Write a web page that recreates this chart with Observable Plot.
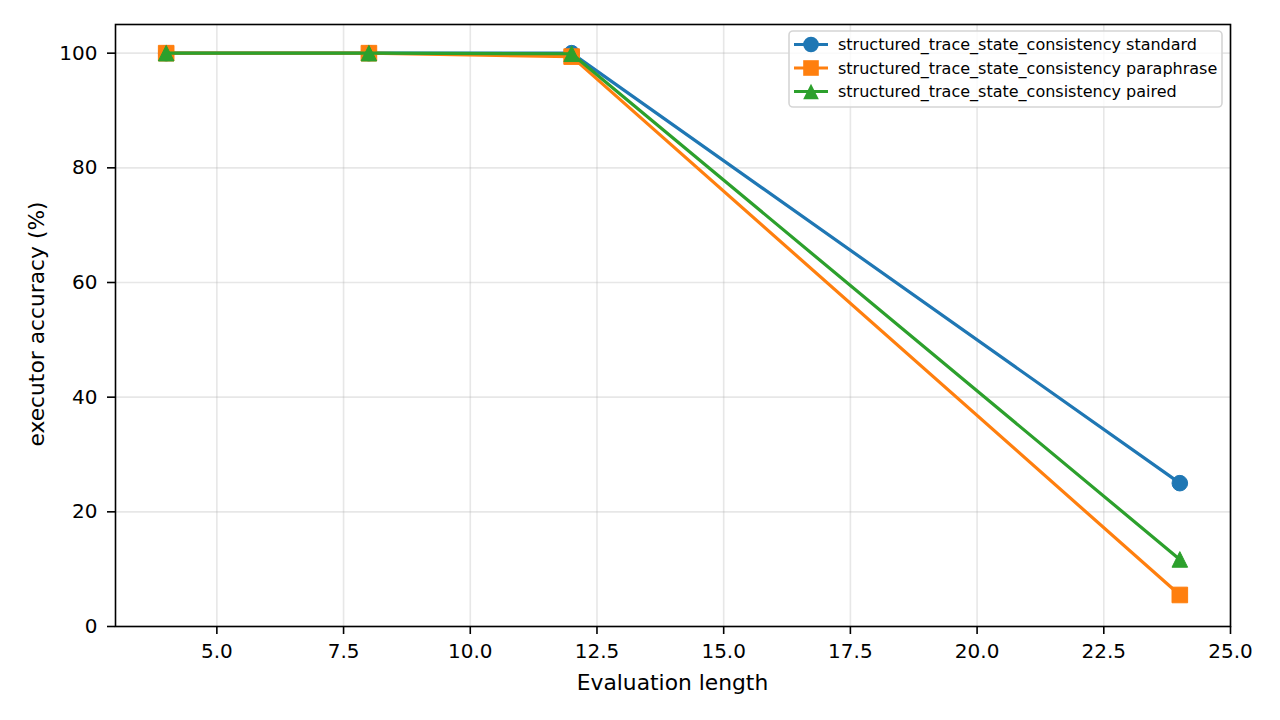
<!DOCTYPE html>
<html>
<head>
<meta charset="utf-8">
<script src="https://cdn.jsdelivr.net/npm/d3@7"></script>
<script src="https://cdn.jsdelivr.net/npm/@observablehq/plot@0.6"></script>
<style>
  html, body { margin: 0; padding: 0; background: #fff; }
  svg { display: block; }
</style>
</head>
<body>
<div id="chart"></div>
<script>
const lengths = [4, 8, 12, 24];
const standardAcc = [100, 100, 100, 25];
const paraphraseAcc = [100, 100, 99.4, 5.5];
const pairedAcc = [100, 100, 99.9, 11.7];
const seriesNames = [
  "structured_trace_state_consistency standard",
  "structured_trace_state_consistency paraphrase",
  "structured_trace_state_consistency paired"
];
const seriesColors = ["#1f77b4", "#ff7f0e", "#2ca02c"];
const xTicks = [5, 7.5, 10, 12.5, 15, 17.5, 20, 22.5, 25];
const yTicks = [0, 20, 40, 60, 80, 100];

const squareSym = {draw(ctx, size) { const r = Math.sqrt(size / Math.PI); ctx.rect(-r, -r, 2 * r, 2 * r); }};
const triSym = {draw(ctx, size) { const r = Math.sqrt(size / Math.PI); ctx.moveTo(0, -r); ctx.lineTo(r, r); ctx.lineTo(-r, r); ctx.closePath(); }};
const symbols = ["circle", squareSym, triSym];

const allValues = [standardAcc, paraphraseAcc, pairedAcc];
const seriesData = allValues.map((vals, k) => lengths.map((x, i) => ({x, y: vals[i], s: seriesNames[k]})));

const marks = [
  Plot.gridX(xTicks, {stroke: "#b0b0b0", strokeOpacity: 0.3, strokeWidth: 1.6}),
  Plot.gridY(yTicks, {stroke: "#b0b0b0", strokeOpacity: 0.3, strokeWidth: 1.6}),
];
seriesData.forEach((d, k) => {
  marks.push(Plot.line(d, {x: "x", y: "y", stroke: seriesColors[k], strokeWidth: 3.2}));
  marks.push(Plot.dot(d, {x: "x", y: "y", fill: seriesColors[k], stroke: seriesColors[k], strokeWidth: 1, symbol: symbols[k], r: 7.8}));
});
marks.push(
  Plot.frame({stroke: "black", strokeWidth: 1.6}),
  Plot.axisX(xTicks, {tickFormat: d => d.toFixed(1), tickSize: 8, tickPadding: 9, strokeWidth: 1.6, fontSize: 20, label: null}),
  Plot.axisY(yTicks, {tickFormat: d => String(d), tickSize: 8, tickPadding: 10, strokeWidth: 1.6, fontSize: 20, label: null})
);

const chart = Plot.plot({
  width: 1280,
  height: 720,
  marginLeft: 115,
  marginRight: 50,
  marginTop: 24,
  marginBottom: 94,
  x: {domain: [3, 25]},
  y: {domain: [0, 105]},
  style: {fontFamily: "DejaVu Sans", color: "black", background: "white", overflow: "visible"},
  marks
});
document.getElementById("chart").appendChild(chart);

const svg = d3.select(chart);
// axis labels
svg.append("text").attr("x", 672.5).attr("y", 690).attr("text-anchor", "middle")
  .attr("font-family", "DejaVu Sans").attr("font-size", 21.8).attr("fill", "black").text("Evaluation length");
svg.append("text").attr("transform", "translate(44,324) rotate(-90)").attr("text-anchor", "middle")
  .attr("font-family", "DejaVu Sans").attr("font-size", 21.8).attr("fill", "black").text("executor accuracy (%)");

// legend
const lg = svg.append("g");
lg.append("rect").attr("x", 789).attr("y", 31).attr("width", 433).attr("height", 76).attr("rx", 4)
  .attr("fill", "white").attr("fill-opacity", 0.8).attr("stroke", "#d5d5d5").attr("stroke-width", 1.6);
const rowY = [44.5, 68, 91.5];
seriesNames.forEach((name, k) => {
  const y = rowY[k];
  lg.append("line").attr("x1", 794).attr("x2", 828).attr("y1", y).attr("y2", y)
    .attr("stroke", seriesColors[k]).attr("stroke-width", 3.2);
  const r = 7.8;
  if (k === 0) lg.append("circle").attr("cx", 811).attr("cy", y).attr("r", r).attr("fill", seriesColors[k]);
  else if (k === 1) lg.append("rect").attr("x", 811 - r).attr("y", y - r).attr("width", 2 * r).attr("height", 2 * r).attr("fill", seriesColors[k]);
  else lg.append("path").attr("d", `M811,${y - r}L${811 + r},${y + r}L${811 - r},${y + r}Z`).attr("fill", seriesColors[k]);
  lg.append("text").attr("x", 838).attr("y", y).attr("dy", "0.35em").attr("text-anchor", "start")
    .attr("font-family", "DejaVu Sans").attr("font-size", 16).attr("fill", "black").text(name);
});
</script>
</body>
</html>
